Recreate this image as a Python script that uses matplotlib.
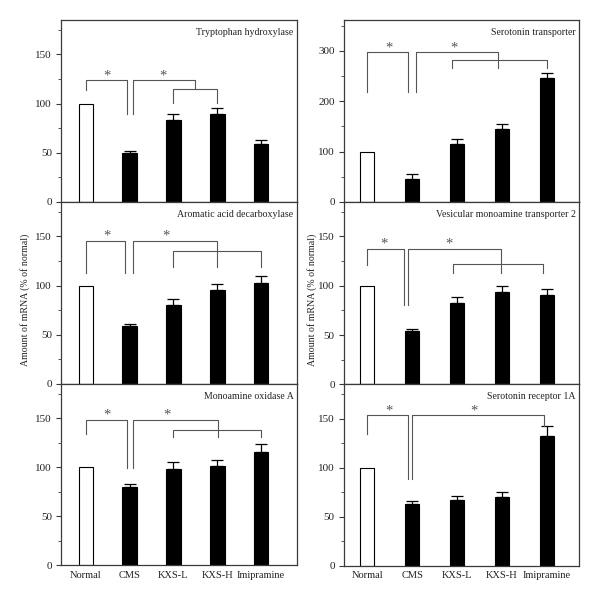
import matplotlib
matplotlib.use("Agg")
import matplotlib.pyplot as plt
from matplotlib.ticker import MultipleLocator

plt.rcParams['font.family'] = ['Liberation Serif', 'DejaVu Serif']

groups = ["Normal", "CMS", "KXS-L", "KXS-H", "Imipramine"]

tph_mean = [100, 50, 83, 89, 59]
tph_err = [0, 2, 6, 6.5, 4]

aadc_mean = [100, 59, 80, 95.5, 103]
aadc_err = [0, 2, 6, 6.5, 7]

maoa_mean = [100, 80.5, 98, 101, 116]
maoa_err = [0, 3, 7, 7, 8]

sert_mean = [100, 45, 116, 145, 246]
sert_err = [0, 10, 8, 9, 10]

vmat_mean = [100, 54, 82.5, 93.5, 90.5]
vmat_err = [0, 2, 6, 6.5, 6]

htr_mean = [100, 63, 66.5, 70, 132]
htr_err = [0, 2.5, 4.5, 5, 10]

# significance brackets: (x0, x1, y_left, y_right, y_top), stars: (x, y)
tph_br = [(0, 0.93, 113.6, 89.8, 123.8), (1.07, 2.5, 89.8, 115, 123.8), (2, 3, 100.7, 100.7, 115)]
tph_st = [(0.47, 128), (1.77, 128)]
aadc_br = [(0, 0.9, 112.6, 112.6, 145), (1.08, 3, 112.6, 119.4, 145), (2, 4, 119.4, 119.4, 134.7)]
aadc_st = [(0.47, 150), (1.82, 150)]
maoa_br = [(0, 0.93, 134, 99.5, 148.3), (1.07, 3.02, 99.5, 130.5, 148.3), (2, 4, 130.5, 130.5, 138)]
maoa_st = [(0.47, 153.5), (1.84, 153.5)]
sert_br = [(0, 0.9, 219, 219, 296.6), (1.08, 2.9, 219, 266, 296.6), (1.88, 4, 266, 266, 280.8)]
sert_st = [(0.49, 305), (1.92, 305)]
vmat_br = [(0, 0.81, 120.7, 80, 137.7), (0.91, 2.98, 80, 112.6, 137.7), (1.9, 3.92, 112.6, 112.6, 121.7)]
vmat_st = [(0.38, 142.5), (1.81, 142.5)]
htr_br = [(0, 0.9, 134.3, 88.6, 154), (1.0, 3.93, 88.6, 142.8, 154)]
htr_st = [(0.49, 158), (2.38, 158)]

panels = [
    # title, mean, err, ymax, major, minor, brackets, stars, rect
    ("Tryptophan hydroxylase", tph_mean, tph_err, 185, 50, 25, tph_br, tph_st, [0.1017, 0.6639, 0.3933, 0.3028]),
    ("Aromatic acid decarboxylase", aadc_mean, aadc_err, 185, 50, 25, aadc_br, aadc_st, [0.1017, 0.3611, 0.3933, 0.3028]),
    ("Monoamine oxidase A", maoa_mean, maoa_err, 185, 50, 25, maoa_br, maoa_st, [0.1017, 0.0591, 0.3933, 0.3020]),
    ("Serotonin transporter", sert_mean, sert_err, 361, 100, 50, sert_br, sert_st, [0.5728, 0.6639, 0.3922, 0.3028]),
    ("Vesicular monoamine transporter 2", vmat_mean, vmat_err, 185, 50, 25, vmat_br, vmat_st, [0.5728, 0.3606, 0.3922, 0.3033]),
    ("Serotonin receptor 1A", htr_mean, htr_err, 185, 50, 25, htr_br, htr_st, [0.5728, 0.0588, 0.3922, 0.3018]),
]

fig = plt.figure(figsize=(6, 6.01), dpi=100)
spine_col = "#3a3a3a"
line_col = "#555555"
text_col = "#222222"

for i, (title, mean, err, ymax, major, minor, brs, sts, rect) in enumerate(panels):
    ax = fig.add_axes(rect)
    x = list(range(len(groups)))
    left_col = i < 3
    width = 0.335 if left_col else 0.32
    colors = ["white"] + ["black"] * 4
    ax.bar(x, mean, width=width, color=colors, edgecolor="black", linewidth=0.8, zorder=2)
    ax.errorbar(x[1:], mean[1:], yerr=[[0] * 4, err[1:]], fmt="none", ecolor="black",
                elinewidth=0.9, capsize=4.3, capthick=0.9, zorder=1)
    for x0, x1, yl, yr, top in brs:
        ax.plot([x0, x0, x1, x1], [yl, top, top, yr], color=line_col, lw=0.8)
    for sx, sy in sts:
        ax.text(sx, sy, "*", ha="center", va="center", fontsize=10.5, color=line_col)
    ax.text(0.985, 0.955, title, transform=ax.transAxes, ha="right", va="top",
            fontsize=7.1, color=text_col)

    if left_col:
        ax.set_xlim(-0.571, 4.823)
    else:
        ax.set_xlim(-0.526, 4.715)
    ax.set_ylim(0, ymax)
    ax.yaxis.set_major_locator(MultipleLocator(major))
    ax.yaxis.set_minor_locator(MultipleLocator(minor))
    ax.tick_params(axis="y", which="major", direction="out", length=3.5, width=0.8,
                   color=spine_col, labelsize=8, labelcolor=text_col, pad=3)
    ax.tick_params(axis="y", which="minor", direction="out", length=2, width=0.6, color=spine_col)
    ax.set_xticks(x)
    if i in (2, 5):
        ax.set_xticklabels(groups)
        ax.tick_params(axis="x", length=0, labelsize=7.5, labelcolor=text_col, pad=4)
    else:
        ax.tick_params(axis="x", length=0, labelbottom=False)
    for s in ax.spines.values():
        s.set_color(spine_col)
        s.set_linewidth(0.9)

fig.text(25 / 600, 1 - 300 / 601, "Amount of mRNA (% of normal)", rotation=90,
         ha="center", va="center", fontsize=7.1, color=text_col)
fig.text(312 / 600, 1 - 300 / 601, "Amount of mRNA (% of normal)", rotation=90,
         ha="center", va="center", fontsize=7.1, color=text_col)

fig.savefig("out.png", dpi=100)
